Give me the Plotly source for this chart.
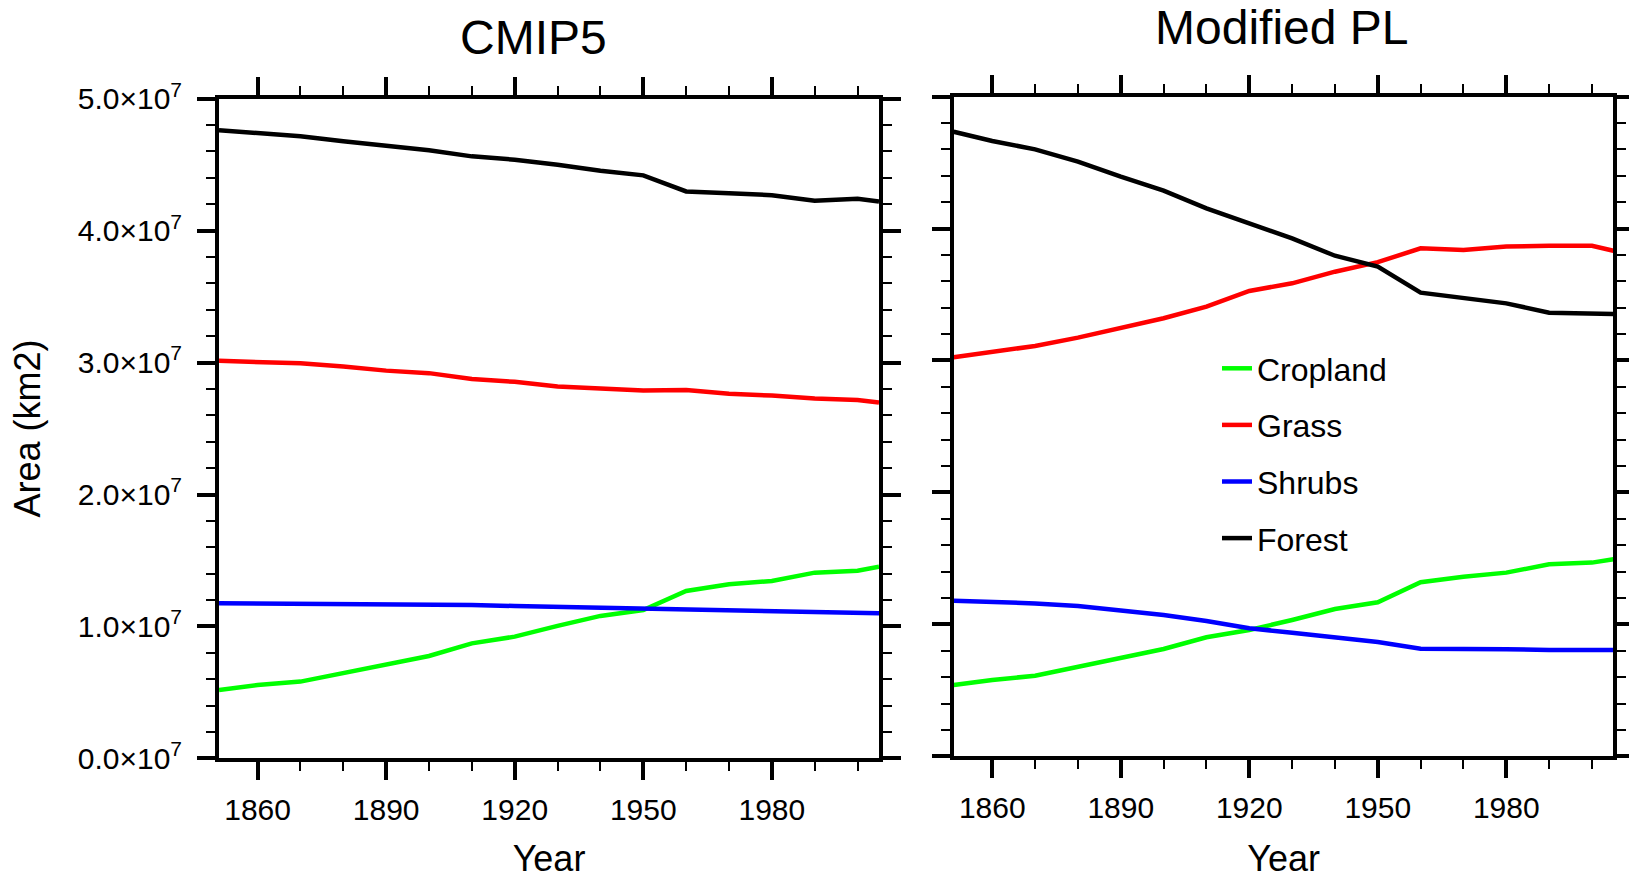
import plotly.graph_objects as go

# ---------------- data (values in km2) ----------------
years = [1851, 1860, 1870, 1880, 1890, 1900, 1910, 1920, 1930, 1940,
         1950, 1960, 1970, 1980, 1990, 2000, 2005]

# CMIP5 panel (units of 1e7 km2)
cmip5_cropland = [0.519, 0.556, 0.582, 0.645, 0.713, 0.776, 0.872, 0.923, 1.004,
                  1.080, 1.125, 1.269, 1.320, 1.345, 1.408, 1.423, 1.453]
cmip5_grass = [3.013, 3.005, 2.995, 2.970, 2.939, 2.920, 2.876, 2.854, 2.818,
               2.803, 2.788, 2.793, 2.763, 2.750, 2.727, 2.717, 2.697]
cmip5_shrubs = [1.176, 1.175, 1.173, 1.172, 1.170, 1.168, 1.162, 1.155, 1.148,
                1.140, 1.133, 1.124, 1.120, 1.115, 1.110, 1.104, 1.100]
cmip5_forest = [4.761, 4.736, 4.716, 4.678, 4.645, 4.609, 4.563, 4.538, 4.500,
                4.454, 4.419, 4.297, 4.284, 4.269, 4.226, 4.241, 4.221]

# Modified PL panel (units of 1e7 km2)
mpl_cropland = [0.540, 0.578, 0.611, 0.679, 0.747, 0.813, 0.902, 0.957, 1.033,
                1.116, 1.167, 1.319, 1.361, 1.392, 1.455, 1.468, 1.493]
mpl_grass = [3.024, 3.067, 3.110, 3.173, 3.244, 3.320, 3.408, 3.527, 3.585,
             3.673, 3.745, 3.850, 3.837, 3.863, 3.870, 3.870, 3.832]
mpl_shrubs = [1.179, 1.172, 1.159, 1.139, 1.109, 1.071, 1.026, 0.970, 0.937,
              0.902, 0.866, 0.816, 0.816, 0.811, 0.806, 0.801, 0.806]
mpl_forest = [4.734, 4.664, 4.600, 4.507, 4.393, 4.287, 4.153, 4.040, 3.926,
              3.794, 3.711, 3.514, 3.471, 3.433, 3.362, 3.352, 3.352]

series_names = ["Cropland", "Grass", "Shrubs", "Forest"]
series_colors = ["#00FF00", "#FF0000", "#0000FF", "#000000"]
scale = 1e7

x_tickvals = [1860, 1890, 1920, 1950, 1980]
y_tickvals = [0, 1e7, 2e7, 3e7, 4e7, 5e7]
y_ticktext = ["0.0\u00d710<sup>7</sup>", "1.0\u00d710<sup>7</sup>", "2.0\u00d710<sup>7</sup>",
              "3.0\u00d710<sup>7</sup>", "4.0\u00d710<sup>7</sup>", "5.0\u00d710<sup>7</sup>"]

panel_titles = ["CMIP5", "Modified PL"]

# ---------------- figure ----------------
W, H = 1629, 879
FONT = "Liberation Sans, Arial, Helvetica, sans-serif"

fig = go.Figure()

left = [cmip5_cropland, cmip5_grass, cmip5_shrubs, cmip5_forest]
right = [mpl_cropland, mpl_grass, mpl_shrubs, mpl_forest]

for name, col, vals in zip(series_names, series_colors, left):
    fig.add_trace(go.Scatter(x=years, y=[v * scale for v in vals], mode="lines",
                             line=dict(color=col, width=4.5), name=name,
                             legendgroup=name, showlegend=False,
                             xaxis="x", yaxis="y"))
for name, col, vals in zip(series_names, series_colors, right):
    fig.add_trace(go.Scatter(x=years, y=[v * scale for v in vals], mode="lines",
                             line=dict(color=col, width=4.5), name=name,
                             legendgroup=name, showlegend=True,
                             xaxis="x2", yaxis="y2"))

def px_x(p):
    return p / W

def px_y(p):
    return 1 - p / H

common_x = dict(range=[1851, 2005], tickvals=x_tickvals, ticks="outside", ticklen=18,
                tickwidth=4, tickcolor="black", showline=True, linewidth=4,
                linecolor="black", mirror="allticks", showgrid=False, zeroline=False,
                automargin=False,
                tickfont=dict(family=FONT, size=30, color="black"),
                ticklabelstandoff=4,
                minor=dict(dtick=10, tick0=1850, ticks="outside", ticklen=9,
                           tickwidth=2, tickcolor="black", showgrid=False))
common_y = dict(range=[0, 5e7], tickvals=y_tickvals, ticktext=y_ticktext,
                ticks="outside", ticklen=18, tickwidth=4, tickcolor="black",
                showline=True, linewidth=4, linecolor="black", mirror="allticks",
                showgrid=False, zeroline=False, automargin=False,
                tickfont=dict(family=FONT, size=30, color="black"),
                ticklabelstandoff=9,
                minor=dict(dtick=0.2e7, tick0=0, ticks="outside", ticklen=9,
                           tickwidth=2, tickcolor="black", showgrid=False))

title_font = dict(family=FONT, size=36, color="black")

fig.update_layout(
    width=W, height=H, autosize=False,
    margin=dict(l=0, r=0, t=0, b=0, pad=0),
    paper_bgcolor="white", plot_bgcolor="white",
    font=dict(family=FONT, color="black"),
    xaxis=dict(common_x, domain=[px_x(219), px_x(879)], anchor="y",
               title=dict(text="Year", font=title_font, standoff=36)),
    yaxis=dict(common_y, domain=[px_y(758.4), px_y(98.7)], anchor="x",
               title=dict(text="Area (km2)", font=title_font, standoff=27)),
    xaxis2=dict(common_x, domain=[px_x(953.7), px_x(1613.4)], anchor="y2",
                title=dict(text="Year", font=title_font, standoff=31)),
    yaxis2=dict(common_y, domain=[px_y(756.3), px_y(96.6)], anchor="x2",
                showticklabels=False),
    legend=dict(x=px_x(1217), y=px_y(341), xanchor="left", yanchor="top",
                bgcolor="rgba(0,0,0,0)", borderwidth=0,
                font=dict(family=FONT, size=32, color="black"),
                traceorder="grouped", tracegroupgap=12),
    showlegend=True,
)

fig.add_annotation(text=panel_titles[0], x=px_x(533), y=px_y(37), xref="paper", yref="paper",
                   showarrow=False, xanchor="center", yanchor="middle",
                   font=dict(family=FONT, size=48, color="black"))
fig.add_annotation(text=panel_titles[1], x=px_x(1281), y=px_y(28), xref="paper", yref="paper",
                   showarrow=False, xanchor="center", yanchor="middle",
                   font=dict(family=FONT, size=48, color="black"))

fig.write_html("out.html")
